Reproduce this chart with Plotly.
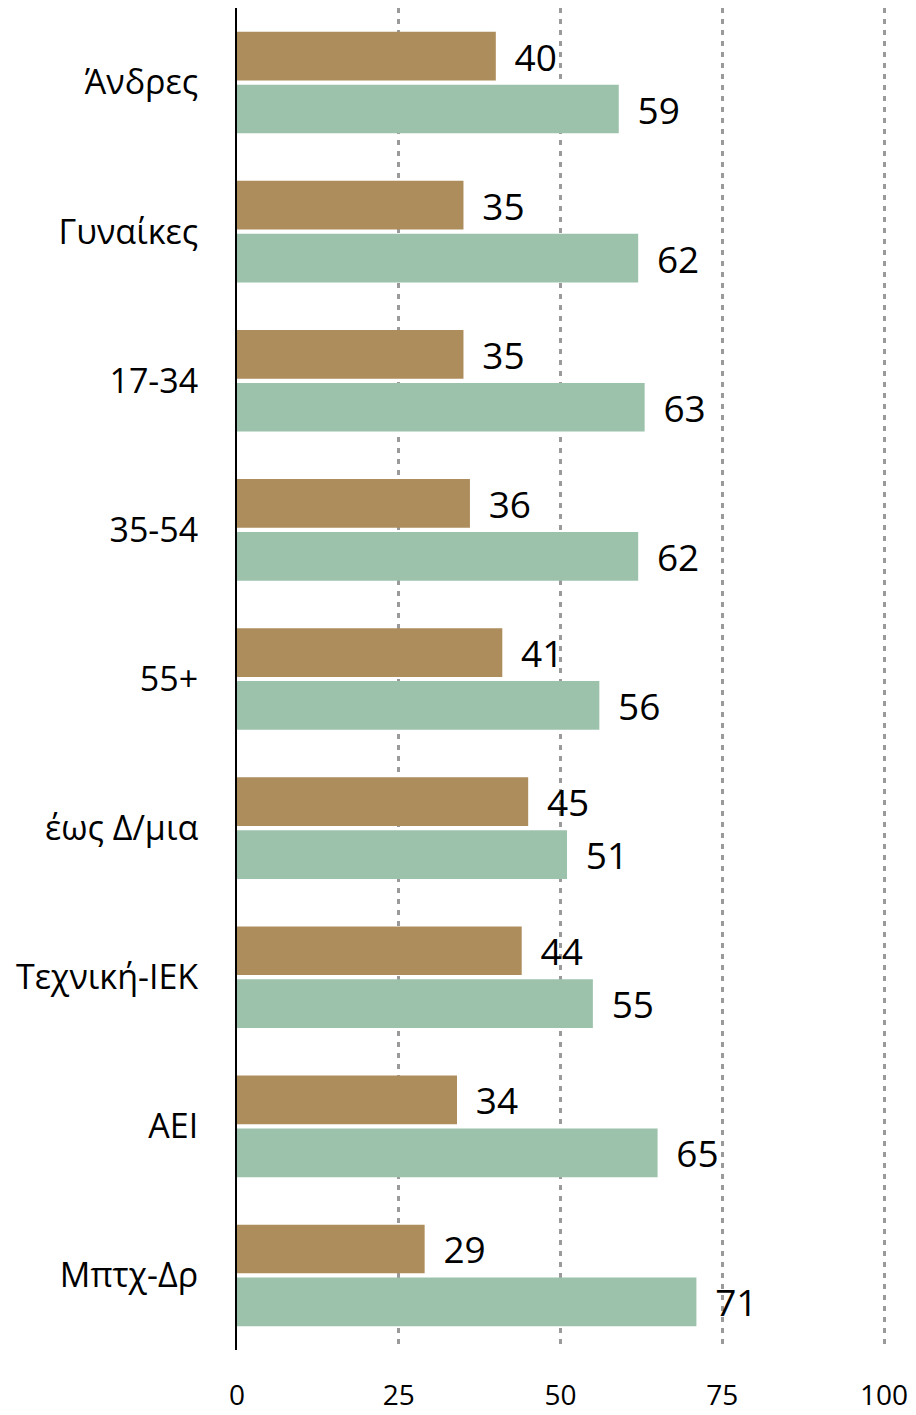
import plotly.graph_objects as go

categories = ["Άνδρες", "Γυναίκες", "17-34", "35-54", "55+", "έως Δ/μια", "Τεχνική-ΙΕΚ", "ΑΕΙ", "Μπτχ-Δρ"]
series_brown = [40, 35, 35, 36, 41, 45, 44, 34, 29]
series_green = [59, 62, 63, 62, 56, 51, 55, 65, 71]
x_ticks = [0, 25, 50, 75, 100]

FONT = "Open Sans"
LABEL_TPL = " \u2009%{x}"

fig = go.Figure()
fig.add_trace(go.Bar(
    y=categories, x=series_brown, orientation="h",
    marker=dict(color="#AE8D5C", line=dict(width=0)),
    texttemplate=LABEL_TPL, textposition="outside",
    textfont=dict(size=37, color="black", family=FONT),
    constraintext="none", cliponaxis=False, showlegend=False,
))
fig.add_trace(go.Bar(
    y=categories, x=series_green, orientation="h",
    marker=dict(color="#9CC2AC", line=dict(width=0)),
    texttemplate=LABEL_TPL, textposition="outside",
    textfont=dict(size=37, color="black", family=FONT),
    constraintext="none", cliponaxis=False, showlegend=False,
))

fig.update_layout(
    width=916, height=1415,
    margin=dict(l=237, r=30, t=8, b=65),
    barmode="group", bargap=0.29, bargroupgap=0.08,
    plot_bgcolor="white", paper_bgcolor="white",
    font=dict(family=FONT, color="black"),
    xaxis=dict(
        range=[0, 100.3], tickvals=x_ticks, showgrid=True,
        gridcolor="#9A9A9A", griddash="5px,6px", gridwidth=2.5,
        zeroline=False, showline=False, ticks="",
        tickfont=dict(size=28, family=FONT), ticklabelstandoff=26,
        ticklabeloverflow="allow", automargin=False,
    ),
    yaxis=dict(
        autorange="reversed", showline=True, linecolor="black", linewidth=2,
        ticks="", showgrid=False, zeroline=False,
        tickfont=dict(size=34, family=FONT), ticklabelstandoff=30,
        automargin=False,
    ),
)

fig.write_html(
    "out.html",
    config={"displayModeBar": False},
    post_script="document.body.style.margin='0';document.body.style.overflow='hidden';",
)
